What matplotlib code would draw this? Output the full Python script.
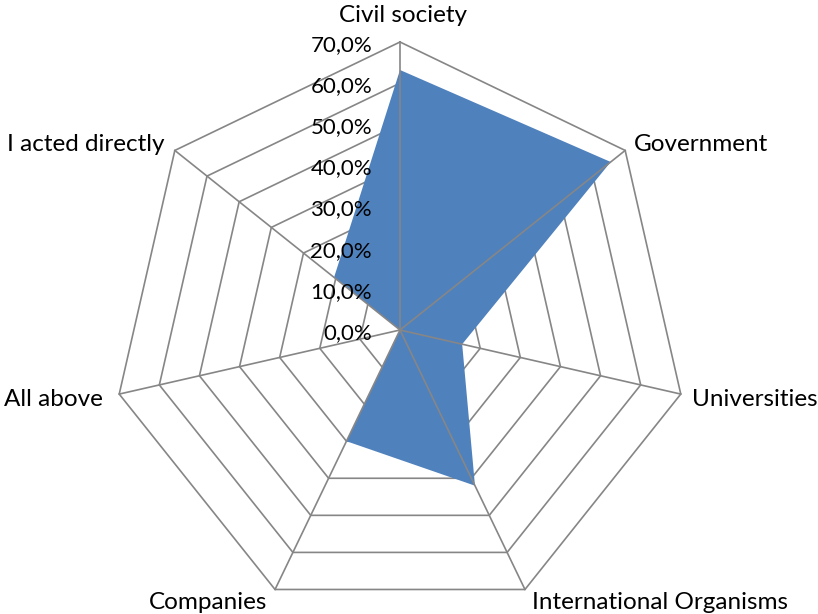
import numpy as np
import matplotlib.pyplot as plt

categories = ['Civil society', 'Government', 'Universities', 'International Organisms',
              'Companies', 'All above', 'I acted directly']
values = [63.2, 65.5, 15.5, 42.0, 30.0, 0.0, 20.5]
ticks = [0, 10, 20, 30, 40, 50, 60, 70]
tick_labels = ['0,0%', '10,0%', '20,0%', '30,0%', '40,0%', '50,0%', '60,0%', '70,0%']

plt.rcParams['font.family'] = ['Lato', 'DejaVu Sans']

fig = plt.figure(figsize=(8.18, 6.14), dpi=100)
ax = fig.add_axes([0, 0, 1, 1])
scale = 288 / 70.0
ax.set_xlim(-400 / scale, 418 / scale)
ax.set_ylim(-(614 - 330) / scale, 330 / scale)
ax.set_aspect('equal')
ax.axis('off')

n = len(categories)
ang = np.arange(n) * 2 * np.pi / n
sx = np.sin(ang)
sy = np.cos(ang)

grid = '#868686'
# rings sit under the filled area, spokes on top of it
for t in ticks[1:]:
    ax.plot(np.append(t * sx, t * sx[0]), np.append(t * sy, t * sy[0]),
            color=grid, lw=1.2, zorder=1)

vals = np.array(values)
ax.fill(vals * sx, vals * sy, color='#4F81BD', zorder=2, lw=0)

for i in range(n):
    ax.plot([0, ticks[-1] * sx[i]], [0, ticks[-1] * sy[i]], color=grid, lw=1.2, zorder=3)

# radial tick labels
for t, lab in zip(ticks, tick_labels):
    ax.annotate(lab, xy=(0, t), xytext=(-28, -9), textcoords='offset pixels',
                ha='right', va='baseline', fontsize=16, zorder=4)

# category labels: (dx, dy, ha) in pixels from the outer vertex
offs = [(3, 20, 'center'), (9, -1, 'left'), (11, -12, 'left'),
        (7, -20, 'left'), (-8, -20, 'right'), (-16, -12, 'right'),
        (-10, -1, 'right')]
R = ticks[-1]
for i, lab in enumerate(categories):
    dx, dy, ha = offs[i]
    ax.annotate(lab, xy=(R * sx[i], R * sy[i]), xytext=(dx, dy), textcoords='offset pixels',
                ha=ha, va='baseline', fontsize=17.5)

fig.savefig('out.png', dpi=100)
